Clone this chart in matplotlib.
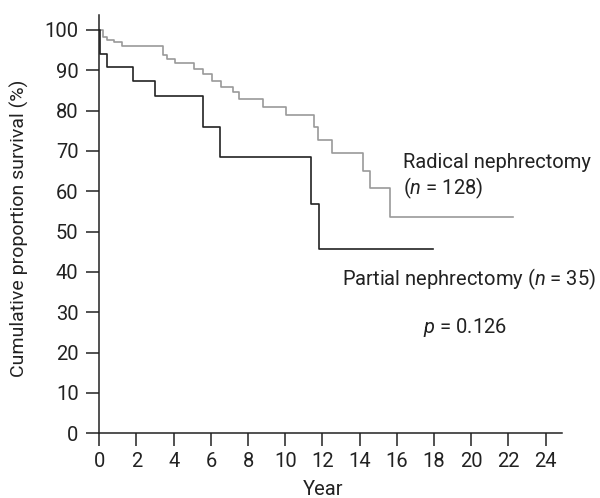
import matplotlib
matplotlib.use("Agg")
import matplotlib.pyplot as plt

plt.rcParams['font.family'] = ['Roboto', 'DejaVu Sans']
plt.rcParams['mathtext.fontset'] = 'custom'
plt.rcParams['mathtext.it'] = 'Roboto:italic'
plt.rcParams['mathtext.rm'] = 'Roboto'

# radical nephrectomy (grey curve) - step times in years, survival in %
radical_t = [0, 0.18, 0.42, 0.78, 1.21, 3.44, 3.62, 4.07, 5.11, 5.59, 6.04, 6.54,
             7.2, 7.51, 8.78, 10.04, 11.54, 11.77, 12.49, 14.19, 14.55, 15.63, 22.26]
radical_s = [100, 98.2, 97.5, 96.9, 96.1, 93.8, 92.7, 91.9, 90.3, 89.1, 87.4, 85.9,
             84.7, 82.9, 81.0, 78.9, 76.0, 72.6, 69.4, 65.1, 60.7, 53.7, 53.7]

# partial nephrectomy (black curve)
partial_t = [0, 0.05, 0.41, 1.80, 2.99, 5.59, 6.49, 11.37, 11.83, 17.96]
partial_s = [100, 94.0, 90.8, 87.4, 83.5, 75.9, 68.4, 56.8, 45.6, 45.6]

xticks = list(range(0, 25, 2))
yticks = list(range(0, 101, 10))

fig = plt.figure(figsize=(6, 4.98), dpi=100)
ax = fig.add_axes([0.1655, 0.1299, 0.936 - 0.1655, 0.970 - 0.1299])

ax.step(radical_t, radical_s, where='post', color='#9a9a9a', lw=1.2, clip_on=False)
ax.step(partial_t, partial_s, where='post', color='#222222', lw=1.2, clip_on=False)

ax.set_xlim(0, 24.86)
ax.set_ylim(0, 103.7)
ax.set_xticks(xticks)
ax.set_yticks(yticks)
ax.spines['top'].set_visible(False)
ax.spines['right'].set_visible(False)
for s in ['left', 'bottom']:
    ax.spines[s].set_linewidth(1.1)
    ax.spines[s].set_color('#222222')
ax.tick_params(axis='both', direction='out', length=9.4, width=1.1, color='#222222',
               labelsize=14.5, labelcolor='#222222')
ax.tick_params(axis='x', pad=4.0)
ax.tick_params(axis='y', pad=5.5)

ax.set_xlabel('Year', fontsize=14.5, color='#222222', va='baseline')
ax.xaxis.set_label_coords(0.485, -0.148)
ax.set_ylabel('Cumulative proportion survival (%)', fontsize=14, color='#222222', va='baseline')
ax.yaxis.set_label_coords(-0.161, 0.49)

tkw = dict(fontsize=14.5, color='#222222', va='baseline', clip_on=False)
ax.text(16.33, 65.7, 'Radical nephrectomy', ha='left', **tkw)
ax.text(16.33, 59.3, '($n$ = 128)', ha='left', **tkw)
ax.text(26.7, 36.8, 'Partial nephrectomy ($n$ = 35)', ha='right', **tkw)
ax.text(17.42, 24.8, '$p$ = 0.126', ha='left', **tkw)

fig.savefig('out.png', dpi=100)
